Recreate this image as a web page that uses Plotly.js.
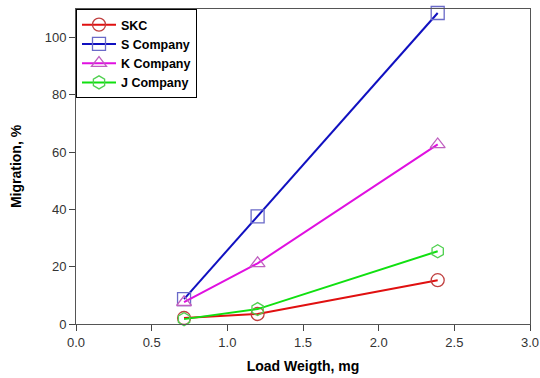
<!DOCTYPE html>
<html><head><meta charset="utf-8">
<script src="https://cdn.plot.ly/plotly-3.0.1.min.js"></script>
<style>body{margin:0;background:#fff}#c{width:540px;height:378px}</style>
</head><body><div id="c"></div>
<script>
const loadWeight = [0.714, 1.2, 2.39];
const seriesNames = ["SKC", "S Company", "K Company", "J Company"];
const skc = [2.1, 3.5, 15.3];
const sCompany = [8.7, 37.6, 108.6];
const kCompany = [7.6, 21.2, 62.7];
const jCompany = [1.7, 5.2, 25.4];
const xTicks = [0, 0.5, 1.0, 1.5, 2.0, 2.5, 3.0];
const xTickText = ["0.0", "0.5", "1.0", "1.5", "2.0", "2.5", "3.0"];
const yTicks = [0, 20, 40, 60, 80, 100];

const styles = [
  {line: "#e01010", marker: "#c04040", symbol: "circle-open"},
  {line: "#1010c0", marker: "#6a6ac8", symbol: "square-open"},
  {line: "#e010e0", marker: "#c060c0", symbol: "triangle-up-open"},
  {line: "#10e010", marker: "#50d050", symbol: "hexagon-open"}
];
const values = [skc, sCompany, kCompany, jCompany];
const traces = values.map((v, i) => ({
  x: loadWeight, y: v, name: seriesNames[i], type: "scatter", mode: "lines+markers",
  line: {color: styles[i].line, width: 2},
  marker: {symbol: styles[i].symbol, size: 13, color: styles[i].marker, line: {width: 1.3, color: styles[i].marker}},
  cliponaxis: false
}));

const font = {family: "Liberation Sans, Arial, sans-serif", color: "#222"};
Plotly.newPlot("c", traces, {
  width: 540, height: 378,
  margin: {l: 76, r: 10, t: 9, b: 54},
  paper_bgcolor: "#fff", plot_bgcolor: "#fff",
  font: font,
  showlegend: true,
  legend: {x: 0, y: 1, xanchor: "left", yanchor: "top", bordercolor: "#000", borderwidth: 1,
    bgcolor: "#fff", font: {family: font.family, size: 12.5, color: "#000", weight: "bold"},
    tracegroupgap: 0, itemwidth: 34},
  xaxis: {range: [0, 3], tickvals: xTicks, ticktext: xTickText, ticks: "outside", ticklen: 6,
    tickcolor: "#444", linecolor: "#555", linewidth: 1, mirror: true, showgrid: false, zeroline: false,
    tickfont: {size: 13, color: "#333"},
    title: {text: "Load Weigth, mg", font: {size: 14, color: "#000", weight: "bold"}, standoff: 12}},
  yaxis: {range: [0, 110], tickvals: yTicks, ticks: "outside", ticklen: 6,
    tickcolor: "#444", linecolor: "#555", linewidth: 1, mirror: true, showgrid: false, zeroline: false,
    tickfont: {size: 13, color: "#333"},
    title: {text: "Migration, %", font: {size: 14, color: "#000", weight: "bold"}, standoff: 19}}
}, {displayModeBar: false, staticPlot: true});
</script></body></html>
